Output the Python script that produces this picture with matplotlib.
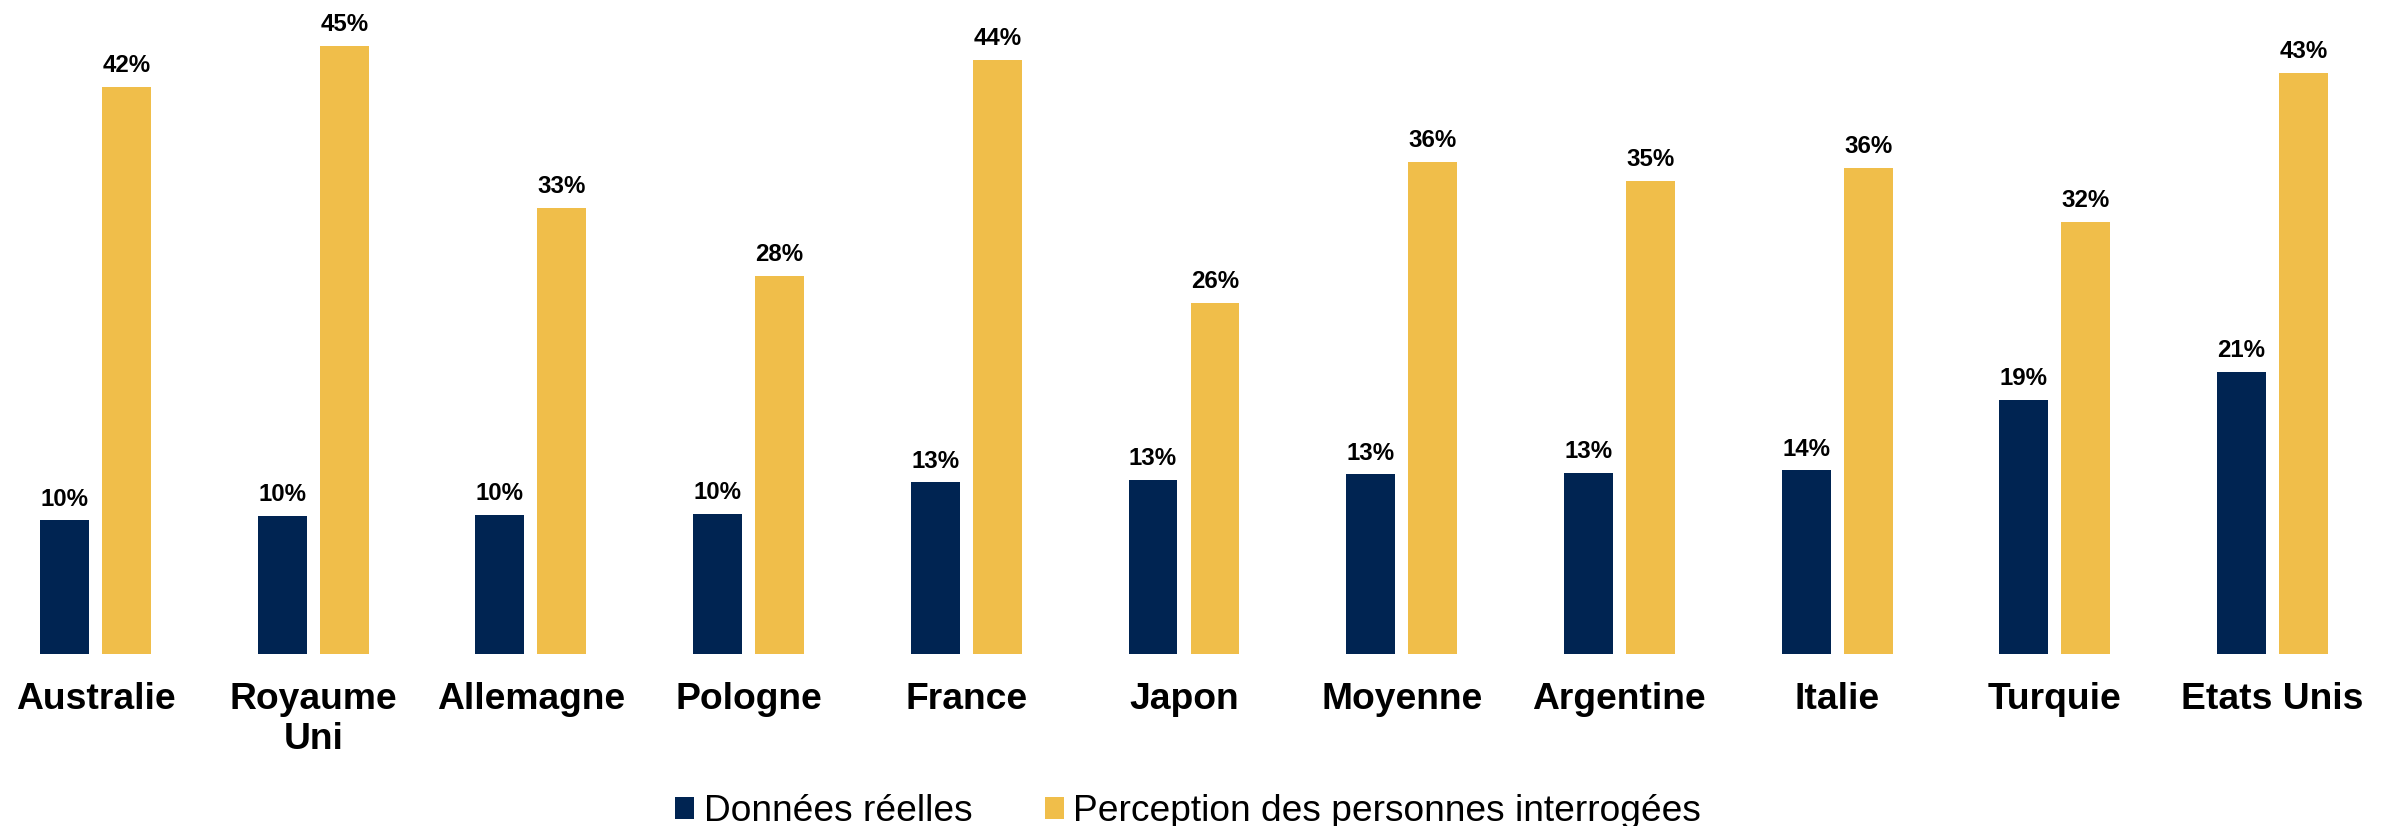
import matplotlib
matplotlib.use("Agg")
import matplotlib.pyplot as plt
from matplotlib.patches import Patch
import numpy as np

categories = ["Australie", "Royaume\nUni", "Allemagne", "Pologne", "France", "Japon",
              "Moyenne", "Argentine", "Italie", "Turquie", "Etats Unis"]
reelles = [9.9, 10.2, 10.3, 10.4, 12.7, 12.9, 13.3, 13.4, 13.6, 18.8, 20.9]
perception = [42.0, 45.0, 33.0, 28.0, 44.0, 26.0, 36.4, 35.0, 36.0, 32.0, 43.0]
series_names = ["Données réelles", "Perception des personnes interrogées"]

NAVY = "#002452"
YELLOW = "#F0BE4A"

plt.rcParams['font.family'] = ['Liberation Sans', 'DejaVu Sans']

fig = plt.figure(figsize=(23.92, 8.26), dpi=100)
ax = fig.add_axes([0, 0.2082, 1, 0.7688])

x = np.arange(len(categories))
w = 0.225
off = 0.1424
b1 = ax.bar(x - off, reelles, width=w, color=NAVY)
b2 = ax.bar(x + off, perception, width=w, color=YELLOW)

for bars in (b1, b2):
    ax.bar_label(bars, labels=[f"{v:.0f}%" for v in bars.datavalues],
                 padding=7, fontsize=17.3, fontweight='bold', color='black')

ax.set_xlim(-0.4387, 10.549)
ax.set_ylim(0, 47)
ax.set_xticks(x)
ax.set_xticklabels(categories, fontsize=26.8, fontweight='bold', linespacing=1.2)
ax.tick_params(axis='x', length=0, pad=20)
ax.set_yticks([])
for s in ax.spines.values():
    s.set_visible(False)

handles = [Patch(facecolor=NAVY), Patch(facecolor=YELLOW)]
fig.legend(handles, series_names, loc='lower left', bbox_to_anchor=(671 / 2392, -0.008),
           ncol=2, frameon=False, fontsize=26.7, handlelength=0.53, handleheight=0.53,
           handletextpad=0.25, columnspacing=1.95, borderpad=0.1, borderaxespad=0.0)

fig.savefig("out.png", dpi=100)
